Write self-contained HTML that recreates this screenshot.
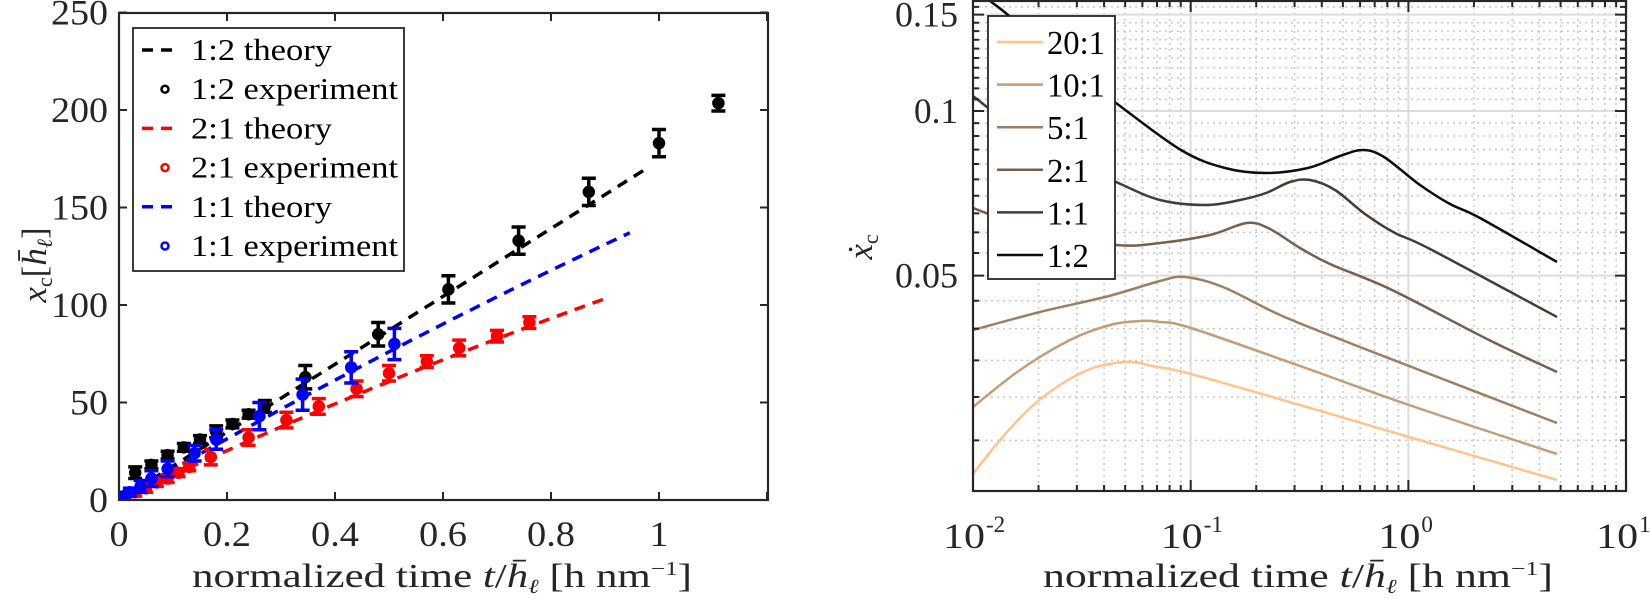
<!DOCTYPE html>
<html><head><meta charset="utf-8"><style>
body{margin:0;background:#fff;}
svg{display:block;font-family:"Liberation Serif",serif;}
</style></head><body>
<svg id="s" width="1650" height="599" viewBox="0 0 1650 599" xmlns="http://www.w3.org/2000/svg">
<defs>
<clipPath id="cl"><rect x="119" y="13" width="649" height="487"/></clipPath>
<clipPath id="cr"><rect x="973" y="1" width="653" height="490"/></clipPath>
</defs>
<g id="L"></g>
<g id="R"></g>
</svg>
<script>
const NS="http://www.w3.org/2000/svg";
function el(p,t,a,txt){const e=document.createElementNS(NS,t);for(const k in a)e.setAttribute(k,a[k]);if(txt!==undefined)e.textContent=txt;p.appendChild(e);return e;}
const L=document.getElementById('L'),R=document.getElementById('R');
const X=t=>119+540*t, Y=v=>500-1.95*v;
const gl=el(L,'g',{'clip-path':'url(#cl)'});
function line(g,f,t0,t1,col){let d='';for(let i=0;i<=60;i++){const t=t0+(t1-t0)*i/60;d+=(i?'L':'M')+X(t).toFixed(1)+' '+Y(f(t)).toFixed(1);}el(g,'path',{d,fill:'none',stroke:col,'stroke-width':3.5,'stroke-dasharray':'11 8'});}
line(gl,t=>174*t,0,0.974,'#000');
line(gl,t=>160*t-16*t*t,0,0.946,'#0000ff');
line(gl,t=>130*t-17*t*t,0,0.904,'#ff0000');
function pts(g,arr,col){arr.forEach(([t,v,e])=>{const x=X(t),y=Y(v),h=e*1.95;
el(g,'path',{d:`M${x} ${y-h}V${y+h}M${x-7} ${y-h}H${x+7}M${x-7} ${y+h}H${x+7}`,stroke:col,'stroke-width':3.5,fill:'none'});
el(g,'circle',{cx:x,cy:y,r:5,fill:col,stroke:col,'stroke-width':2.5});});}
pts(gl,[[0.01,1,1],[0.03,4,2],[0.05,6,2],[0.07,9,2],[0.09,11,2],[0.11,14,2],[0.13,17,2],[0.17,22,4],[0.24,32,4],[0.31,41,4],[0.37,48,4],[0.44,57,4],[0.5,65,4],[0.57,71,3],[0.63,78,4],[0.7,84,3],[0.76,91,3]],'#ff0000');
pts(gl,[[0.03,14,3],[0.06,18,2],[0.09,23,2],[0.12,27,2],[0.15,31,2],[0.18,35,3],[0.21,39,2],[0.24,44,2],[0.27,48,3],[0.345,63,6],[0.48,85,6],[0.61,108,7],[0.74,133,7],[0.87,158,7],[1.0,183,7],[1.11,203.5,4]],'#000');
pts(gl,[[0.01,2,2],[0.02,4,2],[0.04,7,3],[0.06,11,4],[0.09,16,4],[0.14,24,4],[0.18,31,5],[0.26,43,7],[0.34,54,8],[0.43,68,8],[0.51,80,8]],'#0000ff');
el(L,'rect',{x:119,y:13,width:649,height:487,fill:'none',stroke:'#262626','stroke-width':2.2});
for(let i=0;i<=6;i++){const x=X(i*0.2);el(L,'path',{d:`M${x} 500V492M${x} 13V21`,stroke:'#262626','stroke-width':2});}
for(let i=0;i<=5;i++){const y=Y(i*50);el(L,'path',{d:`M119 ${y}H127M768 ${y}H760`,stroke:'#262626','stroke-width':2});}
['0','0.2','0.4','0.6','0.8','1'].forEach((s,i)=>{const w=s.length==1?19:48;el(L,'text',{x:X(i*0.2)-w/2,y:546,'font-size':36,textLength:w,lengthAdjust:'spacingAndGlyphs',fill:'#262626'},s);});
['0','50','100','150','200','250'].forEach((s,i)=>{const w=s.length*19;el(L,'text',{x:108-w,y:Y(i*50)+12,'font-size':36,textLength:w,lengthAdjust:'spacingAndGlyphs',fill:'#262626'},s);});
el(L,'rect',{x:133,y:28,width:271,height:243,fill:'#fff',stroke:'#262626','stroke-width':1.8});
const leg=[['1:2 theory','#000',0],['1:2 experiment','#000',1],['2:1 theory','#ff0000',0],['2:1 experiment','#ff0000',1],['1:1 theory','#0000ff',0],['1:1 experiment','#0000ff',1]];
leg.forEach(([s,c,m],i)=>{const y=50+i*39.2;
if(m)el(L,'circle',{cx:165,cy:y,r:3.5,fill:'none',stroke:c,'stroke-width':2.5});
else el(L,'path',{d:`M142 ${y}H177`,stroke:c,'stroke-width':3.5,'stroke-dasharray':'11 8'});
el(L,'text',{x:191,y:y+10,'font-size':31,textLength:m?207:141,lengthAdjust:'spacingAndGlyphs',fill:'#000'},s);});
const xl='normalized time <tspan font-style="italic">t</tspan>/<tspan font-style="italic">h̄</tspan><tspan font-size="20" dy="6" font-style="italic">ℓ</tspan><tspan dy="-6"> [h nm</tspan><tspan font-size="20" dy="-12">−1</tspan><tspan dy="12">]</tspan>';
el(L,'text',{x:192,y:587,'font-size':34,textLength:500,lengthAdjust:'spacingAndGlyphs',fill:'#262626'}).innerHTML=xl;
el(L,'text',{transform:'translate(46,265) rotate(-90)','font-size':35,'text-anchor':'middle',fill:'#262626'}).innerHTML='<tspan font-style="italic">x</tspan><tspan font-size="22" dy="6">c</tspan><tspan dy="-6">[</tspan><tspan font-style="italic">h̄</tspan><tspan font-size="22" dy="6" font-style="italic">ℓ</tspan><tspan dy="-6">]</tspan>';
// RIGHT
const RX=lt=>973+217.7*(lt+2), RY=v=>111-Math.log10(v/0.1)*547;
const gg=el(R,'g',{});
for(let k=-2;k<1;k++)for(let m=2;m<=9;m++){const x=RX(k+Math.log10(m));el(gg,'path',{d:`M${x} 1V491`,stroke:'#c8c8c8','stroke-width':1.5,'stroke-dasharray':'2 4'});}
for(let v=0.025;v<0.16;v+=0.005){if(Math.abs(v*20-Math.round(v*20))<1e-6)continue;const y=RY(v);el(gg,'path',{d:`M973 ${y}H1626`,stroke:'#c8c8c8','stroke-width':1.5,'stroke-dasharray':'2 4'});}
[-1,0].forEach(k=>el(gg,'path',{d:`M${RX(k)} 1V491`,stroke:'#dcdcdc','stroke-width':2}));
[0.05,0.1,0.15].forEach(v=>el(gg,'path',{d:`M973 ${RY(v)}H1626`,stroke:'#dcdcdc','stroke-width':2}));
const gc=el(R,'g',{'clip-path':'url(#cr)'});
function cr(p){let d=`M${p[0][0]} ${p[0][1]}`;for(let i=0;i<p.length-1;i++){const p0=p[i-1]||p[i],p1=p[i],p2=p[i+1],p3=p[i+2]||p2;
d+=`C${(p1[0]+(p2[0]-p0[0])/6).toFixed(1)} ${(p1[1]+(p2[1]-p0[1])/6).toFixed(1)} ${(p2[0]-(p3[0]-p1[0])/6).toFixed(1)} ${(p2[1]-(p3[1]-p1[1])/6).toFixed(1)} ${p2[0]} ${p2[1]}`;}return d;}
const curves=[
['#fcc58e',[[973,474],[1000,440],[1030,408],[1060,385],[1090,369],[1115,363],[1134,362],[1152,366],[1191,374],[1300,405],[1409,437],[1557,480]]],
['#c49d77',[[973,407],[1020,370],[1070,340],[1110,325],[1140,321],[1160,322],[1191,328],[1300,366],[1409,405],[1557,454]]],
['#9e7f62',[[973,330],[1040,312],[1109,296],[1160,281],[1185,277],[1223,287],[1280,315],[1342,340],[1409,366],[1557,423]]],
['#76604b',[[973,208],[1040,232],[1116,245],[1160,243],[1210,235],[1247,223],[1270,229],[1300,248],[1330,264],[1392,290],[1489,340],[1557,372]]],
['#473a30',[[973,96],[1045,150],[1116,182],[1160,200],[1206,205],[1240,200],[1266,193],[1290,182],[1310,180],[1335,190],[1365,214],[1395,233],[1430,249],[1557,317]]],
['#0d0d0d',[[960,-25],[989,0],[1008,15],[1060,60],[1116,103],[1181,150],[1225,168],[1266,173],[1308,168],[1340,156],[1363,150],[1384,157],[1420,185],[1450,204],[1480,218],[1557,262]]]];
curves.forEach(([c,p])=>el(gc,'path',{d:cr(p),fill:'none',stroke:c,'stroke-width':2.5}));
el(R,'rect',{x:973,y:1,width:653,height:490,fill:'none',stroke:'#262626','stroke-width':2.2});
for(let k=-2;k<=1;k++){const x=RX(k);el(R,'path',{d:`M${x} 491V480M${x} 1V12`,stroke:'#262626','stroke-width':2});
if(k<1)for(let m=2;m<=9;m++){const x2=RX(k+Math.log10(m));el(R,'path',{d:`M${x2} 491V485M${x2} 1V7`,stroke:'#262626','stroke-width':2});}}
for(let v=0.025;v<0.156;v+=0.005){const y=RY(v);const maj=Math.abs(v*20-Math.round(v*20))<1e-6;const l=maj?11:6;el(R,'path',{d:`M973 ${y}H${973+l}M1626 ${y}H${1626-l}`,stroke:'#262626','stroke-width':2});}
[['0.15',0.15,63],['0.1',0.1,44],['0.05',0.05,63]].forEach(([s,v,w])=>el(R,'text',{x:958-w,y:RY(v)+12,'font-size':36,textLength:w,lengthAdjust:'spacingAndGlyphs',fill:'#262626'},s));
[-2,-1,0,1].forEach(k=>{const x=RX(k);el(R,'text',{x:x-30,y:548,'font-size':36,textLength:42,lengthAdjust:'spacingAndGlyphs',fill:'#262626'},'10');
el(R,'text',{x:x+13,y:532,'font-size':23,fill:'#262626'},String(k));});
el(R,'text',{x:1043,y:587,'font-size':34,textLength:510,lengthAdjust:'spacingAndGlyphs',fill:'#262626'}).innerHTML=xl;
el(R,'text',{transform:'translate(872,247) rotate(-90)','font-size':35,'text-anchor':'middle',fill:'#262626'}).innerHTML='<tspan font-style="italic">ẋ</tspan><tspan font-size="22" dy="6">c</tspan>';
el(R,'rect',{x:988,y:16,width:127,height:263,fill:'#fff',stroke:'#262626','stroke-width':1.8});
['20:1','10:1','5:1','2:1','1:1','1:2'].forEach((s,i)=>{const y=42+i*42.6;el(R,'path',{d:`M997 ${y}H1043`,stroke:curves[i][0],'stroke-width':2.5});
el(R,'text',{x:1047,y:y+12,'font-size':34,textLength:s.length==4?58:42,lengthAdjust:'spacingAndGlyphs',fill:'#000'},s);});
</script>
</body></html>
